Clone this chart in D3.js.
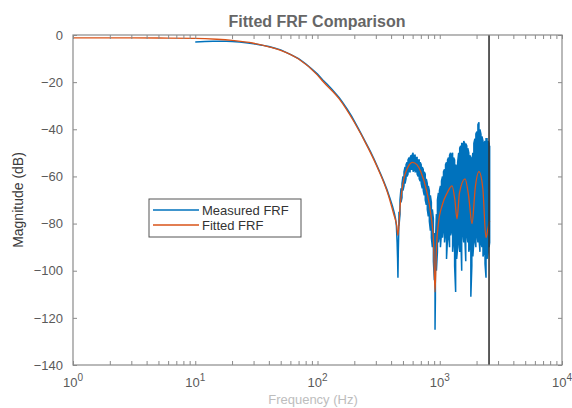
<!DOCTYPE html>
<html><head><meta charset="utf-8">
<script src="https://cdn.jsdelivr.net/npm/d3@7"></script>
<style>body{margin:0;background:#fff}svg{display:block}</style>
</head><body>
<script>
// ---- data ----
const title = "Fitted FRF Comparison";
const xLabel = "Frequency  (Hz)";
const yLabel = "Magnitude (dB)";
const seriesNames = ["Measured FRF", "Fitted FRF"];
const xTickExps = [0, 1, 2, 3, 4];
const yTicks = [0, -20, -40, -60, -80, -100, -120, -140];
const cutoffFreq = 2530;

// fitted FRF [Hz, dB]
const fitted = [
 [1,-1.2],[3,-1.2],[6,-1.3],[10,-1.4],[15,-1.8],[20,-2.3],[30,-3.5],[40,-5],[50,-6.5],[70,-10.2],
 [100,-17],[110,-19.5],[150,-27],[200,-37],[260,-48],[320,-58],[380,-68],[420,-76],[445,-81],[455,-85],
 [475,-72],[500,-63],[550,-56],[600,-54],[650,-55],[700,-58],[780,-66],[850,-77],[890,-88],[915,-109],
 [940,-90],[975,-80],[1050,-72],[1150,-67],[1260,-64],[1330,-70],[1384,-78],[1450,-67],[1610,-61],[1720,-68],
 [1837,-80],[1950,-65],[2094,-58],[2250,-65],[2388,-86],[2480,-82],[2560,-79]
];

// measured FRF, low-frequency part [Hz, dB]
const measuredLow = [
 [10,-3.0],[11,-2.9],[12,-2.8],[14,-2.7],[16,-2.6],[18,-2.7],[20,-2.8],[23,-3.0],[26,-3.3],[30,-3.7],
 [35,-4.3],[40,-4.9],[45,-5.6],[50,-6.3],[60,-8.2],[70,-10.0],[80,-12.2],[90,-14.5],[100,-16.6],[110,-19.0],
 [120,-20.9],[130,-22.8],[140,-24.7],[150,-26.5],[160,-28.5],[175,-31.5],[190,-34.4],[200,-36.5],[215,-39.5],[230,-42.4],
 [250,-46],[270,-49.3],[290,-52.6],[310,-56],[330,-59.2],[350,-62.4],[370,-65.6],[390,-69],[410,-72.5],[425,-75.5],
 [435,-78],[442,-81],[448,-88],[452,-95],[455,-103],[458,-92],[462,-83]
];
// measured FRF, dense noisy part [Hz, high dB, low dB]
const measuredBand = [
 [464,-75,-81],[473,-70,-76],[482,-65,-71],[491,-63,-69],[500,-60,-66],[510,-58,-64],[520,-56,-63],[530,-55,-61],
 [540,-54,-60],[550,-53,-59],[561,-52,-58],[572,-52,-58],[583,-51,-57],[594,-51,-57],[605,-50,-58],[617,-51,-57],
 [629,-51,-58],[641,-52,-58],[653,-52,-59],[666,-53,-60],[679,-53,-61],[692,-54,-62],[705,-55,-63],[719,-56,-65],
 [733,-57,-66],[747,-58,-68],[761,-59,-70],[776,-61,-72],[791,-63,-74],[806,-64,-77],[822,-66,-79],[838,-68,-83],
 [854,-71,-86],[870,-74,-90],[887,-78,-96],[904,-84,-104],[915,-90,-125],[921,-88,-112],[939,-76,-100],[957,-70,-92],
 [975,-67,-88],[994,-66,-85],[1013,-64,-90],[1033,-62,-84],[1053,-60,-86],[1073,-58,-82],[1094,-57,-88],[1115,-55,-84],
 [1136,-54,-95],[1158,-53,-86],[1180,-52,-84],[1203,-51,-90],[1226,-50,-85],[1250,-51,-83],[1274,-50,-92],[1298,-52,-87],
 [1323,-53,-98],[1349,-55,-109],[1375,-56,-95],[1401,-54,-90],[1428,-50,-86],[1456,-48,-92],[1484,-47,-84],[1512,-46,-100],
 [1541,-46,-83],[1571,-45,-88],[1601,-46,-85],[1632,-46,-96],[1664,-47,-84],[1696,-48,-88],[1728,-50,-92],[1762,-51,-90],
 [1796,-52,-111],[1830,-54,-98],[1865,-50,-94],[1901,-46,-88],[1938,-44,-86],[1975,-42,-90],[2013,-41,-84],[2052,-38,-88],
 [2092,-37,-86],[2132,-40,-92],[2173,-42,-88],[2215,-43,-90],[2258,-45,-94],[2301,-46,-92],[2346,-45,-97],[2391,-44,-103],
 [2437,-44,-95],[2484,-45,-92],[2532,-46,-90],[2560,-47,-88]
];

// ---- chart ----
const W = 572, H = 408;
const m = {left: 73, right: 562, top: 35, bottom: 365};
const colors = ["#0072BD", "#D95319"];
const font = "'Liberation Sans', Arial, sans-serif";

const svg = d3.select("body").append("svg").attr("width", W).attr("height", H)
  .style("font-family", font);

const x = d3.scaleLog().domain([1, 10000]).range([m.left, m.right]);
const y = d3.scaleLinear().domain([-140, 0]).range([m.bottom, m.top]);

svg.append("defs").append("clipPath").attr("id", "clip")
  .append("rect").attr("x", m.left).attr("y", m.top)
  .attr("width", m.right - m.left).attr("height", m.bottom - m.top);

// measured points
const measuredPts = measuredLow.map(d => [d[0], d[1]]);
measuredBand.forEach((d, i) => {
  if (i % 2 === 0) { measuredPts.push([d[0], d[1]], [d[0], d[2]]); }
  else { measuredPts.push([d[0], d[2]], [d[0], d[1]]); }
});

const line = d3.line().x(d => x(d[0])).y(d => y(d[1]));
const smooth = d3.line().x(d => x(d[0])).y(d => y(d[1])).curve(d3.curveMonotoneX);

const g = svg.append("g").attr("clip-path", "url(#clip)");
g.append("path").datum(measuredPts).attr("d", line)
  .attr("fill", "none").attr("stroke", colors[0]).attr("stroke-width", 1.5);
g.append("path").datum(fitted).attr("d", smooth)
  .attr("fill", "none").attr("stroke", colors[1]).attr("stroke-width", 1.3);

// cutoff line
svg.append("line").attr("x1", x(cutoffFreq)).attr("x2", x(cutoffFreq))
  .attr("y1", m.top).attr("y2", m.bottom).attr("stroke", "#333").attr("stroke-width", 1.6);

// axes
const axisColor = "#8a8a8a";
const textColor = "#5a5a5a";
const tickLen = 4;

const yAxisL = svg.append("g").attr("transform", `translate(${m.left},0)`)
  .call(d3.axisLeft(y).tickValues(yTicks).tickSize(-tickLen).tickPadding(10).tickFormat(d3.format("d")));
const yAxisR = svg.append("g").attr("transform", `translate(${m.right},0)`)
  .call(d3.axisRight(y).tickValues(yTicks).tickSize(-tickLen).tickFormat(""));

const minorX = [];
for (let e = 0; e < 4; e++) for (let k = 1; k < 10; k++) minorX.push(k * Math.pow(10, e));
minorX.push(10000);

const xAxisB = svg.append("g").attr("transform", `translate(0,${m.bottom})`)
  .call(d3.axisBottom(x).tickValues(minorX).tickSize(-tickLen).tickFormat(""));
const xAxisT = svg.append("g").attr("transform", `translate(0,${m.top})`)
  .call(d3.axisTop(x).tickValues(minorX).tickSize(-tickLen).tickFormat(""));

[yAxisL, yAxisR, xAxisB, xAxisT].forEach(a => {
  a.select(".domain").remove();
  a.selectAll(".tick line").attr("stroke", axisColor).attr("stroke-width", 1);
});
yAxisL.selectAll(".tick text").attr("fill", textColor).style("font-size", "13px").style("font-family", font);

// frame
svg.append("rect").attr("x", m.left).attr("y", m.top)
  .attr("width", m.right - m.left).attr("height", m.bottom - m.top)
  .attr("fill", "none").attr("stroke", axisColor).attr("stroke-width", 1.2);

// x tick labels (10^n)
xTickExps.forEach(e => {
  const t = svg.append("text").attr("x", x(Math.pow(10, e))).attr("y", 387)
    .attr("text-anchor", "middle").attr("fill", textColor).style("font-size", "13px");
  t.append("tspan").text("10");
  t.append("tspan").attr("dy", -6).style("font-size", "10px").text(e);
});

// labels
svg.append("text").attr("x", 313).attr("y", 404)
  .attr("text-anchor", "middle").attr("fill", "#bdbdbd").style("font-size", "13px").text(xLabel);
svg.append("text").attr("transform", `translate(23,${(m.top + m.bottom) / 2}) rotate(-90)`)
  .attr("text-anchor", "middle").attr("fill", "#3a3a3a").style("font-size", "14px").text(yLabel);
svg.append("text").attr("x", 317).attr("y", 27).attr("text-anchor", "middle")
  .attr("fill", "#666").style("font-size", "16px").style("font-weight", "bold").text(title);

// legend
const lg = svg.append("g");
lg.append("rect").attr("x", 149).attr("y", 199).attr("width", 152).attr("height", 38)
  .attr("fill", "#fff").attr("stroke", "#555").attr("stroke-width", 1);
seriesNames.forEach((n, i) => {
  const yy = 210 + i * 15;
  lg.append("line").attr("x1", 153).attr("x2", 199).attr("y1", yy).attr("y2", yy)
    .attr("stroke", colors[i]).attr("stroke-width", 1.5);
  lg.append("text").attr("x", 202).attr("y", yy + 4.5).attr("fill", "#333")
    .style("font-size", "13px").text(n);
});
</script>
</body></html>
